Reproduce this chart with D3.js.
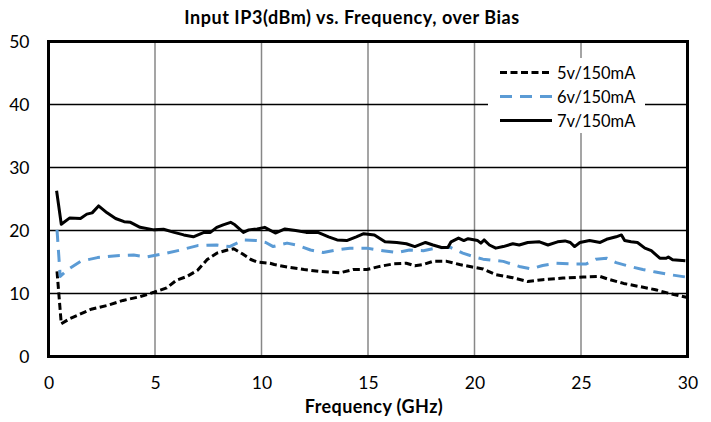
<!DOCTYPE html>
<html><head><meta charset="utf-8">
<script src="https://cdn.jsdelivr.net/npm/d3@7/dist/d3.min.js"></script>
<style>
html,body{margin:0;padding:0;background:#fff;}
text{font-family:Lato,"Open Sans",sans-serif;}
</style></head>
<body><svg id="c" width="711" height="422"></svg>
<script>
const chartTitle = "Input IP3(dBm) vs. Frequency, over Bias";
const xTitle = "Frequency (GHz)";
const xTicks = [0,5,10,15,20,25,30];
const yTicks = [0,10,20,30,40,50];
const seriesNames = ["5v/150mA","6v/150mA","7v/150mA"];

const freq5v = [0.4,0.6,1.0,2.0,2.75,3.5,4.3,4.95,5.55,6.0,6.5,7.0,7.45,7.9,8.4,8.7,9.1,9.5,9.8,10.4,10.6,11.2,12.0,12.75,13.7,14.3,14.95,15.55,16.2,16.8,17.2,17.6,18.05,18.7,19.3,19.9,20.4,21.0,21.8,22.5,23.2,24.15,25.1,25.9,26.35,27.0,27.75,28.5,29.15,29.95];
const ip3_5v = [13.5,5.2,6.0,7.5,8.1,8.9,9.5,10.2,10.9,12.1,12.7,13.7,15.4,16.4,16.9,17.1,16.3,15.4,15.0,14.8,14.6,14.2,13.8,13.5,13.3,13.8,13.8,14.3,14.7,14.8,14.4,14.6,15.1,15.1,14.6,14.2,13.9,13.0,12.5,11.9,12.2,12.45,12.6,12.7,12.2,11.6,11.1,10.6,10.0,9.4];

const freq6v = [0.4,0.55,0.9,1.5,2.3,3.2,4.0,4.6,5.4,6.2,7.0,7.9,8.5,9.15,9.8,10.2,10.55,11.2,11.65,12.3,12.9,13.5,14.15,14.95,15.7,16.35,16.95,17.6,18.2,18.85,19.45,20.1,20.4,21.35,22.1,22.65,23.2,23.85,24.6,25.25,25.7,26.2,26.65,27.3,27.9,28.5,29.15,29.95];
const ip3_6v = [20.1,12.7,13.8,15.1,15.7,16.0,16.1,15.8,16.3,16.9,17.6,17.7,17.45,18.5,18.4,18.1,17.45,18.0,17.7,16.9,16.5,16.9,17.2,17.2,16.8,16.5,16.9,16.8,17.2,17.35,16.4,15.7,15.45,15.1,14.3,13.9,14.45,14.8,14.7,14.7,15.45,15.6,14.9,14.3,13.8,13.4,13.0,12.6];

const freq7v = [0.38,0.6,1.0,1.5,1.8,2.05,2.35,2.75,3.15,3.55,3.85,4.3,4.95,5.4,5.9,6.35,6.8,7.3,7.6,7.9,8.2,8.55,8.75,9.15,9.4,9.8,10.15,10.65,11.1,11.6,12.1,12.65,13.15,13.55,14.0,14.45,14.8,15.3,15.8,16.35,16.8,17.2,17.7,18.05,18.45,18.75,18.9,19.25,19.5,19.7,20.15,20.3,20.45,20.7,21.0,21.35,21.8,22.1,22.5,23.05,23.45,23.9,24.25,24.5,24.7,24.95,25.4,25.9,26.2,26.65,26.9,27.05,27.35,27.65,28.0,28.3,28.7,29.0,29.1,29.3,29.9];
const ip3_7v = [26.3,21.0,22.0,21.9,22.6,22.8,23.9,22.8,21.9,21.4,21.3,20.5,20.1,20.2,19.7,19.3,19.0,19.7,19.7,20.5,20.9,21.3,20.9,19.7,20.1,20.25,20.5,19.6,20.25,20.0,19.7,19.7,19.0,18.5,18.4,19.0,19.5,19.3,18.2,18.1,17.9,17.45,18.1,17.7,17.3,17.3,18.2,18.8,18.4,18.7,18.4,18.0,18.5,17.7,17.2,17.45,17.9,17.7,18.1,18.2,17.7,18.2,18.35,18.1,17.45,18.1,18.4,18.1,18.6,19.0,19.3,18.4,18.2,18.1,17.2,16.8,15.6,15.6,15.8,15.35,15.2];

const svg = d3.select("#c");
const L = 48.5, R = 687.5, T = 41.5, B = 356.5;
const x = d3.scaleLinear().domain([0,30]).range([L,R]);
const y = d3.scaleLinear().domain([0,50]).range([B,T]);

// vertical gridlines (gray)
svg.append("g").selectAll("line").data(xTicks.slice(1,-1)).join("line")
  .attr("x1",d=>x(d)).attr("x2",d=>x(d)).attr("y1",T).attr("y2",B)
  .attr("stroke","#878787").attr("stroke-width",1.5);
// horizontal gridlines (black)
svg.append("g").selectAll("line").data(yTicks.slice(1,-1)).join("line")
  .attr("x1",L).attr("x2",R).attr("y1",d=>y(d)).attr("y2",d=>y(d))
  .attr("stroke","#000").attr("stroke-width",1.3);

// axes labels via d3 axes
const xAxis = svg.append("g").attr("transform",`translate(0,${B})`)
  .call(d3.axisBottom(x).tickValues(xTicks).tickSize(0).tickPadding(20).tickFormat(d3.format("d")));
xAxis.select(".domain").remove();
xAxis.selectAll("text").attr("font-size",17.5).attr("fill","#000").attr("font-family","Lato,sans-serif");
const yAxis = svg.append("g").attr("transform",`translate(${L},0)`)
  .call(d3.axisLeft(y).tickValues(yTicks).tickSize(0).tickPadding(19).tickFormat(d3.format("d")));
yAxis.select(".domain").remove();
yAxis.selectAll("text").attr("font-size",17.5).attr("fill","#000").attr("font-family","Lato,sans-serif");

// series
const styles = [
  {f:freq5v, v:ip3_5v, color:"#000", dash:"7,3.5"},
  {f:freq6v, v:ip3_6v, color:"#5b9bd5", dash:"12,8"},
  {f:freq7v, v:ip3_7v, color:"#000", dash:null}
];
const line = d3.line().x(d=>x(d[0])).y(d=>y(d[1]));
styles.forEach(s=>{
  const pts = s.f.map((f,i)=>[f,s.v[i]]);
  svg.append("path").datum(pts).attr("d",line).attr("fill","none")
    .attr("stroke",s.color).attr("stroke-width",3).attr("stroke-linejoin","round")
    .attr("stroke-dasharray",s.dash);
});

// plot border
svg.append("rect").attr("x",L).attr("y",T).attr("width",R-L).attr("height",B-T)
  .attr("fill","none").attr("stroke","#000").attr("stroke-width",3);

// legend
const lg = svg.append("g");
lg.append("rect").attr("x",488).attr("y",58).attr("width",157).attr("height",75).attr("fill","#fff");
seriesNames.forEach((n,i)=>{
  const yy = 72.5 + i*24;
  lg.append("line").attr("x1",500).attr("x2",552).attr("y1",yy).attr("y2",yy)
    .attr("stroke",styles[i].color).attr("stroke-width",3).attr("stroke-dasharray",styles[i].dash);
  lg.append("text").attr("x",557).attr("y",yy+6).attr("font-size",16.5).text(n);
});

// titles
svg.append("text").attr("x",352).attr("y",24).attr("text-anchor","middle")
  .attr("font-size",18).attr("font-weight","bold").attr("letter-spacing",0.55).text(chartTitle);
svg.append("text").attr("x",374).attr("y",413).attr("text-anchor","middle")
  .attr("font-size",18).attr("font-weight","bold").attr("letter-spacing",0.4).text(xTitle);
</script></body></html>
